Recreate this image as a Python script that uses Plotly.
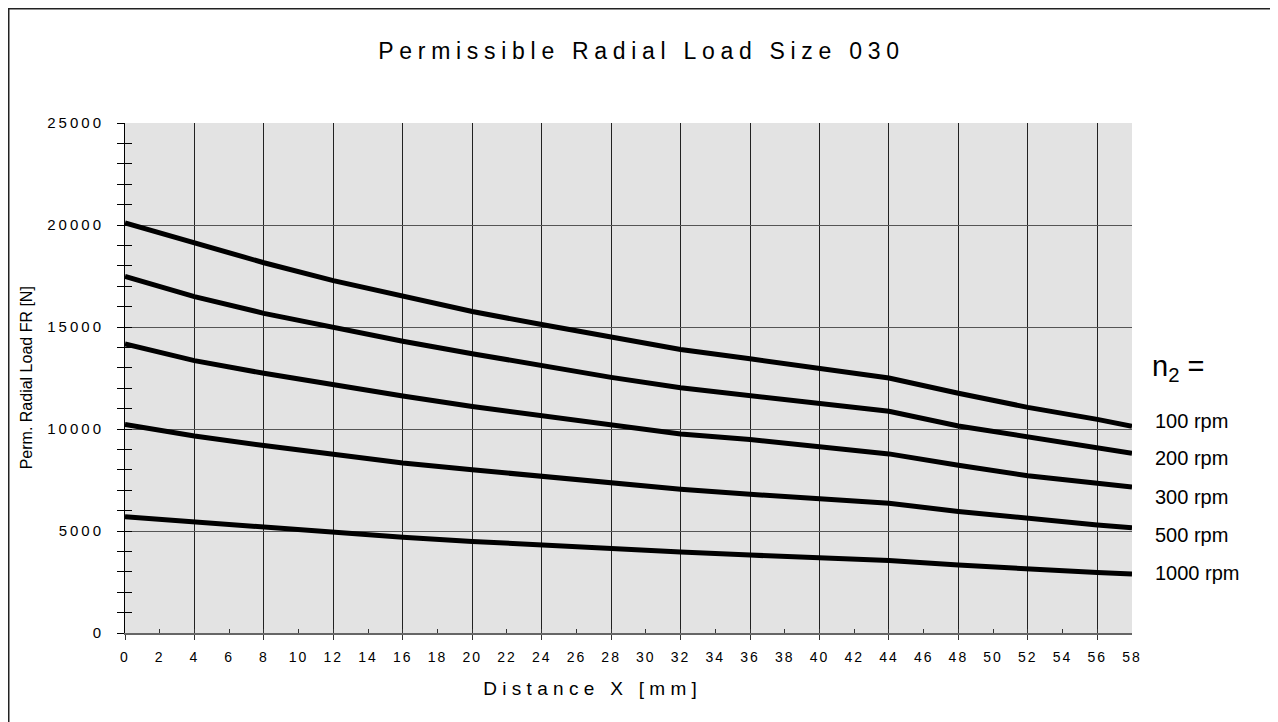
import plotly.graph_objects as go

# ---------------- data ----------------
distance_mm = [0, 4, 8, 12, 16, 20, 24, 28, 32, 36, 40, 44, 48, 52, 56, 58]

load_100rpm = [20100, 19100, 18150, 17270, 16490, 15760, 15120, 14490, 13900,
               13440, 12940, 12500, 11750, 11060, 10470, 10130]
load_200rpm = [17480, 16490, 15670, 14970, 14300, 13690, 13100, 12530, 12020,
               11650, 11260, 10870, 10150, 9590, 9080, 8810]
load_300rpm = [14170, 13350, 12730, 12160, 11620, 11100, 10630, 10180, 9750,
               9480, 9120, 8780, 8220, 7710, 7340, 7160]
load_500rpm = [10220, 9660, 9190, 8770, 8330, 8000, 7670, 7360, 7050,
               6800, 6570, 6360, 5960, 5600, 5290, 5160]
load_1000rpm = [5700, 5440, 5200, 4950, 4690, 4490, 4300, 4130, 3970,
                3820, 3690, 3550, 3330, 3120, 2960, 2890]

series = [load_100rpm, load_200rpm, load_300rpm, load_500rpm, load_1000rpm]
speed_labels = ["100 rpm", "200 rpm", "300 rpm", "500 rpm", "1000 rpm"]
speed_label_y = [0.4163, 0.3425, 0.2673, 0.1922, 0.1171]  # paper positions of the labels

title_text = "Permissible Radial Load Size 030"
x_title = "Distance X [mm]"
y_title = "Perm. Radial Load FR [N]"

FONT = "Liberation Sans, Arial, sans-serif"

fig = go.Figure()
for vals, name in zip(series, speed_labels):
    fig.add_trace(go.Scatter(
        x=distance_mm, y=vals, mode="lines", name=name,
        line=dict(color="black", width=5), showlegend=False,
        hoverinfo="x+y",
    ))
# empty helper trace for the overlaid axes (labels every 2 mm / inner ticks)
fig.add_trace(go.Scatter(x=[], y=[], xaxis="x2", yaxis="y2", showlegend=False,
                         hoverinfo="skip"))

annotations = [
    dict(text=y_title, x=-0.098, y=0.5, xref="paper", yref="paper",
         xanchor="center", yanchor="middle",
         textangle=-90, showarrow=False, font=dict(family=FONT, size=16, color="black")),
    dict(text=x_title, x=0.464, y=-0.108, xref="paper", yref="paper",
         xanchor="center", yanchor="middle",
         showarrow=False, font=dict(family=FONT, size=19, color="black")),
    dict(text="n<sub>2</sub> =", x=1.018, y=0.5196, xref="paper", yref="paper",
         xanchor="left", yanchor="middle",
         showarrow=False, font=dict(family=FONT, size=29, color="black")),
]
for lab, yy in zip(speed_labels, speed_label_y):
    annotations.append(dict(text=lab, x=1.021, y=yy, xref="paper", yref="paper",
                            xanchor="left", yanchor="middle", showarrow=False,
                            font=dict(family=FONT, size=20, color="black")))

fig.update_layout(
    width=1270, height=714,
    margin=dict(l=117, r=146, t=115, b=89, pad=0),
    paper_bgcolor="white", plot_bgcolor="#e3e3e3",
    font=dict(family=FONT, color="black"),
    title=dict(text=title_text, x=0.4988, xanchor="center", xref="container",
               y=0.9398, yanchor="middle", yref="container",
               font=dict(family=FONT, size=23, color="black")),
    xaxis=dict(range=[0, 58], tick0=0, dtick=4, showticklabels=False,
               ticks="outside", ticklen=5, tickcolor="#333",
               showgrid=True, gridcolor="#222", gridwidth=1,
               showline=True, linecolor="#666", linewidth=1.5,
               zeroline=False, fixedrange=True),
    xaxis2=dict(overlaying="x", anchor="y", side="bottom", range=[0, 58],
                tick0=0, dtick=2, ticks="inside", ticklen=4, tickcolor="#333",
                showgrid=False, showline=False, zeroline=False,
                tickfont=dict(family=FONT, size=14, color="black"),
                ticklabelstandoff=14, fixedrange=True),
    yaxis=dict(range=[0, 25000], tick0=0, dtick=5000, tickformat="d",
               ticks="outside", ticklen=7, tickcolor="black",
               minor=dict(dtick=1000, ticks="outside", ticklen=7, tickcolor="black",
                          showgrid=False),
               showgrid=True, gridcolor="#555", gridwidth=1,
               showline=True, linecolor="black", linewidth=1,
               zeroline=False, tickfont=dict(family=FONT, size=15, color="black"),
               ticklabelstandoff=10, fixedrange=True),
    yaxis2=dict(overlaying="y", anchor="x", side="left", range=[0, 25000],
                tick0=0, dtick=5000, ticks="inside", ticklen=7, tickcolor="black",
                minor=dict(dtick=1000, ticks="inside", ticklen=7, tickcolor="black",
                           showgrid=False),
                showticklabels=False, showgrid=False, showline=False,
                zeroline=False, fixedrange=True),
    annotations=annotations,
    shapes=[dict(type="rect", xref="paper", yref="paper",
                 x0=-0.11544, x1=1.2, y0=-0.25, y1=1.2240,
                 line=dict(color="#222", width=1.5), fillcolor="rgba(0,0,0,0)",
                 layer="below")],
)

post = """
var gd = document.getElementById('{plot_id}');
function spacing(){
  gd.querySelectorAll('.gtitle').forEach(function(e){e.style.letterSpacing='5.7px';});
  gd.querySelectorAll('.ytick text').forEach(function(e){e.style.letterSpacing='3px';});
  gd.querySelectorAll('.x2tick text').forEach(function(e){e.style.letterSpacing='2px';});
  gd.querySelectorAll('.annotation[data-index="1"] text').forEach(function(e){e.style.letterSpacing='5.3px';});
}
spacing();
gd.on('plotly_afterplot', spacing);
"""

fig.write_html("out.html", post_script=post)
